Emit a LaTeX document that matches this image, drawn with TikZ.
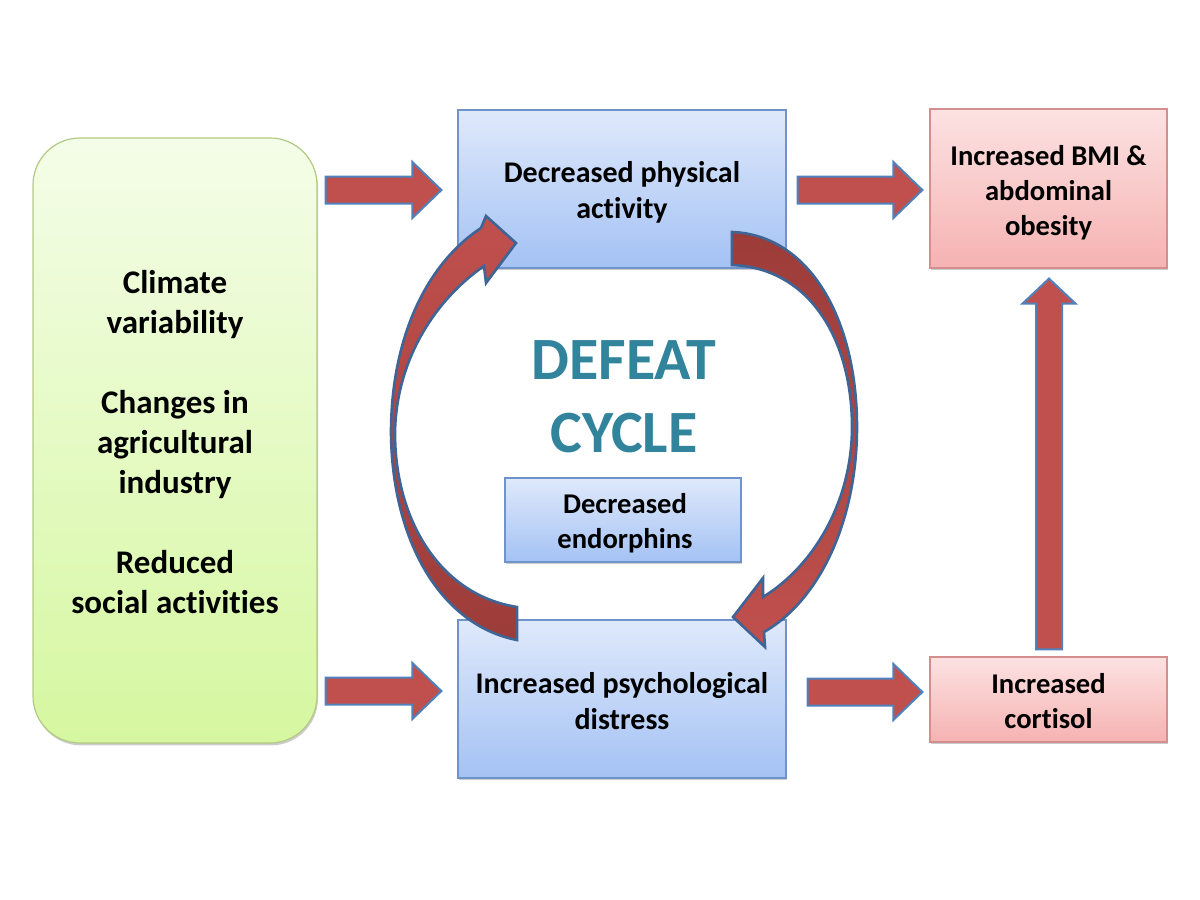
\documentclass[tikz,border=0pt]{standalone}
\usepackage{fontspec}
\setmainfont{Carlito}[Ligatures=NoCommon]
\usetikzlibrary{shadows,calc}
\definecolor{arrowred}{HTML}{C0504D}
\definecolor{arrowdark}{HTML}{9C3C39}
\definecolor{arrowblue}{HTML}{4F81BD}
\definecolor{curveblue}{HTML}{3F6496}
\definecolor{blueTop}{HTML}{DFE9FB}
\definecolor{blueBot}{HTML}{A4C2F4}
\definecolor{blueLine}{HTML}{6F94CB}
\definecolor{pinkTop}{HTML}{FCE2E2}
\definecolor{pinkBot}{HTML}{F6B2B2}
\definecolor{pinkLine}{HTML}{D48E8E}
\definecolor{greenTop}{HTML}{F4FDE8}
\definecolor{greenBot}{HTML}{D6F7A0}
\definecolor{greenLine}{HTML}{B3C984}
\definecolor{defeatteal}{HTML}{31849B}
% horizontal block arrow from tail coordinate #1 to tip coordinate #2
\newcommand\blockarrowH[2]{%
  \path[blockarrow] let \p1=(#1), \p2=(#2) in
    (\x1,{\y1+6.75pt}) -- ({\x2-14.5pt},{\y1+6.75pt}) -- ({\x2-14.5pt},{\y1+14pt})
    -- (\x2,\y1) -- ({\x2-14.5pt},{\y1-14pt}) -- ({\x2-14.5pt},{\y1-6.75pt})
    -- (\x1,{\y1-6.75pt}) -- cycle;}
% upward block arrow from tail coordinate #1 to tip coordinate #2
\newcommand\blockarrowV[2]{%
  \path[blockarrow] let \p1=(#1), \p2=(#2) in
    ({\x1-6.5pt},\y1) -- ({\x1-6.5pt},{\y2-12.5pt}) -- ({\x1-13.25pt},{\y2-12.5pt})
    -- (\x1,\y2) -- ({\x1+13.25pt},{\y2-12.5pt}) -- ({\x1+6.5pt},{\y2-12.5pt})
    -- ({\x1+6.5pt},\y1) -- cycle;}
\begin{document}
\begin{tikzpicture}[x=0.5pt,y=-0.5pt,
  boxbase/.style={rectangle, draw, line width=0.6pt, inner sep=0pt,
    drop shadow={shadow xshift=0.5pt, shadow yshift=-1.2pt, fill=black!40, opacity=0.5}},
  bluebox/.style={boxbase, draw=blueLine, top color=blueTop, bottom color=blueBot},
  pinkbox/.style={boxbase, draw=pinkLine, top color=pinkTop, bottom color=pinkBot},
  greenbox/.style={boxbase, rounded corners=23.5pt, draw=greenLine, top color=greenTop, bottom color=greenBot},
  boxtext/.style={inner sep=0pt, align=center, font=\bfseries\fontsize{14.3}{17.5}\selectfont},
  bigtext/.style={boxtext, font=\bfseries\fontsize{15}{18}\selectfont},
  greentext/.style={boxtext, font=\bfseries\fontsize{16.5}{20}\selectfont},
  blockarrow/.style={draw=arrowblue, fill=arrowred, line width=1pt, line join=miter},
  curvedarrow/.style={draw=curveblue, line width=1.3pt, line join=miter}
]
\useasboundingbox (0,0) rectangle (1200,900);

% boxes
\node[greenbox, minimum width=142pt, minimum height=302.5pt] (causes) at (175,440.5) {};
\node[bluebox, minimum width=164pt, minimum height=79pt] (phys) at (622,189) {};
\node[bluebox, minimum width=164pt, minimum height=79pt] (distress) at (622,699) {};
\node[bluebox, minimum width=118pt, minimum height=42pt] (endo) at (623,520) {};
\node[pinkbox, minimum width=118.5pt, minimum height=79.5pt] (bmi) at (1048.5,188.5) {};
\node[pinkbox, minimum width=118.5pt, minimum height=42.5pt] (cortisol) at (1048.5,699.5) {};

% texts
\node[greentext] (causesT) at ($(causes.center)+(0,1.5)$)
  {Climate\\variability\\[20pt]Changes in\\agricultural\\industry\\[20pt]Reduced\\social activities};
\node[bigtext] (physT) at ($(phys.center)+(0,3)$) {Decreased physical\\activity};
\node[bigtext] (distressT) at ($(distress.center)+(0,2)$) {Increased psychological\\distress};
\node[boxtext] (endoT) at ($(endo.center)+(2,3.5)$) {Decreased\\endorphins};
\node[boxtext] (bmiT) at ($(bmi.center)+(0,4)$) {Increased BMI \&\\abdominal\\obesity};
\node[boxtext] (cortisolT) at ($(cortisol.center)+(0,2)$) {Increased\\cortisol};
\node[font=\bfseries\fontsize{30}{36.5}\selectfont, text=defeatteal, align=center, inner sep=0pt]
  (defeat) at (624,397) {DEFEAT\\CYCLE};

% straight block arrows
\coordinate (a1t) at ($(causes.east|-phys.west)+(8,1)$);
\coordinate (a1h) at ($(phys.west)+(-16,1)$);
\coordinate (a2t) at ($(phys.east)+(11,1)$);
\coordinate (a2h) at ($(bmi.west)+(-7,1.5)$);
\coordinate (a3t) at ($(causes.east|-distress.west)+(8,-8)$);
\coordinate (a3h) at ($(distress.west)+(-16,-8)$);
\coordinate (a4t) at ($(distress.east)+(21,-7)$);
\coordinate (a4h) at ($(cortisol.west)+(-7,-7.5)$);
\coordinate (a5t) at ($(cortisol.north)+(0.5,-7)$);
\coordinate (a5h) at ($(bmi.south)+(0.5,10)$);
\blockarrowH{a1t}{a1h}
\blockarrowH{a2t}{a2h}
\blockarrowH{a3t}{a3h}
\blockarrowH{a4t}{a4h}
\blockarrowV{a5t}{a5h}

% curved arrows of the cycle
\path[curvedarrow, top color=arrowred, bottom color=arrowdark]
  (517,640) .. controls (440,625) and (392,540) .. (391,433)
  .. controls (391,340) and (425,265) .. (481,228)
  -- (486,216) -- (516,243) -- (486,283) -- (484,266)
  .. controls (435,300) and (396,360) .. (395,433)
  .. controls (395,520) and (440,595) .. (517,607) -- cycle;
\path[curvedarrow, top color=arrowdark, bottom color=arrowred]
  (732,232) .. controls (810,235) and (857,320) .. (857,427)
  .. controls (857,520) and (820,600) .. (764,632)
  -- (765,647) -- (733,617) -- (763,578) -- (763,597)
  .. controls (815,565) and (852,500) .. (852,427)
  .. controls (852,340) and (810,268) .. (732,265) -- cycle;
\end{tikzpicture}
\end{document}
